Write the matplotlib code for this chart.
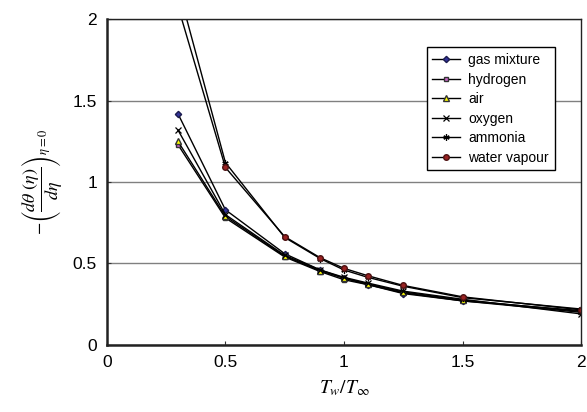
import numpy as np
import matplotlib
matplotlib.use("Agg")
from matplotlib import pyplot as plt

x = [0.3, 0.5, 0.75, 0.9, 1.0, 1.1, 1.25, 1.5, 2.0]
gas_mixture = [1.42, 0.83, 0.56, 0.46, 0.41, 0.37, 0.315, 0.27, 0.21]
hydrogen = [1.23, 0.78, 0.54, 0.45, 0.40, 0.37, 0.32, 0.27, 0.20]
air = [1.25, 0.79, 0.545, 0.455, 0.41, 0.375, 0.325, 0.275, 0.205]
oxygen = [1.32, 0.80, 0.55, 0.46, 0.415, 0.38, 0.33, 0.28, 0.19]
ammonia = [2.2, 1.12, 0.66, 0.53, 0.46, 0.415, 0.36, 0.29, 0.22]
water_vapour = [2.08, 1.09, 0.665, 0.535, 0.47, 0.425, 0.365, 0.295, 0.215]

labels = ['gas mixture', 'hydrogen', 'air', 'oxygen', 'ammonia', 'water vapour']
series = [gas_mixture, hydrogen, air, oxygen, ammonia, water_vapour]
styles = [
    dict(marker='D', markersize=3.2, markerfacecolor='#333399', markeredgecolor='#1a1a4d'),
    dict(marker='s', markersize=3.5, markerfacecolor='#cc66cc', markeredgecolor='#333333'),
    dict(marker='^', markersize=4, markerfacecolor='#ffff00', markeredgecolor='#333333'),
    dict(marker='x', markersize=4.5, markeredgecolor='black', markeredgewidth=0.9),
    dict(marker=(6, 2, 0), markersize=4.5, markeredgecolor='black', markeredgewidth=0.9),
    dict(marker='o', markersize=4, markerfacecolor='#992222', markeredgecolor='#4d1111'),
]

plt.rcParams['font.family'] = ['Liberation Sans', 'DejaVu Sans']
plt.rcParams['mathtext.fontset'] = 'stix'

fig = plt.figure(figsize=(5.87, 4.12), dpi=100)
ax = fig.add_axes([0.182, 0.163, 0.808, 0.79])

for ys, lab, st in zip(series, labels, styles):
    ax.plot(x, ys, color='black', linewidth=1.0, label=lab, **st)

ax.set_xlim(0, 2)
ax.set_ylim(0, 2)
ax.set_xticks([0, 0.5, 1, 1.5, 2])
ax.set_xticklabels(['0', '0.5', '1', '1.5', '2'])
ax.set_yticks([0, 0.5, 1, 1.5, 2])
ax.set_yticklabels(['0', '0.5', '1', '1.5', '2'])
ax.tick_params(labelsize=12.5, direction='in', length=3, color='#333333', pad=7)
ax.yaxis.grid(True, color='#808080', linewidth=1)
ax.set_axisbelow(True)
for s in ax.spines.values():
    s.set_color('#222222')
    s.set_linewidth(1.0)
ax.spines['left'].set_linewidth(1.8)
ax.spines['bottom'].set_linewidth(1.8)

ax.set_xlabel(r'$T_w/T_\infty$', fontsize=14, labelpad=6)
ax.set_ylabel(r'$-\left(\dfrac{d\theta\ (\eta)}{d\eta}\right)_{\eta=0}$', fontsize=13, labelpad=6)

leg = ax.legend(loc='upper left', bbox_to_anchor=(0.66, 0.935), fontsize=10,
                frameon=True, fancybox=False, framealpha=1, edgecolor='black',
                handlelength=2.0, borderpad=0.4, labelspacing=0.4, handletextpad=0.6)
leg.get_frame().set_linewidth(1)

fig.savefig('out.png', dpi=100)
